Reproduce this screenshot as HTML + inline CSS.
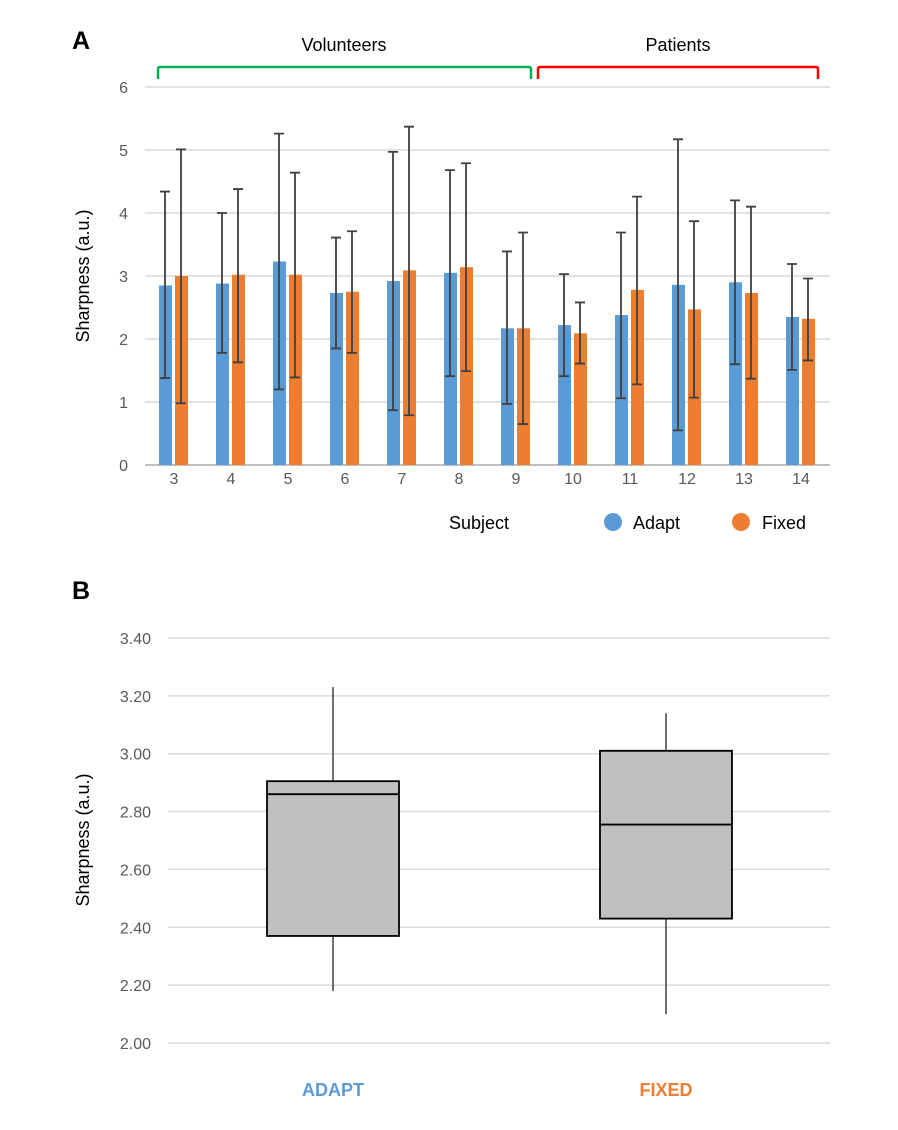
<!DOCTYPE html>
<html><head><meta charset="utf-8"><style>
body{margin:0;background:#fff;}
svg text{font-family:"Liberation Sans",sans-serif;}
</style></head><body>
<svg id="s" width="898" height="1125" xmlns="http://www.w3.org/2000/svg">
<text x="72" y="49" font-size="25" font-weight="bold" fill="#000">A</text>
<text x="72" y="599" font-size="25" font-weight="bold" fill="#000">B</text>
<path d="M158,79 V69 Q158,67 160,67 H529 Q531,67 531,69 V79" fill="none" stroke="#00b050" stroke-width="2.5"/>
<path d="M538,79 V69 Q538,67 540,67 H816 Q818,67 818,69 V79" fill="none" stroke="#ff0000" stroke-width="2.5"/>
<text x="344" y="51" font-size="18" text-anchor="middle">Volunteers</text>
<text x="678" y="51" font-size="18" text-anchor="middle">Patients</text>
<text transform="translate(89,276) rotate(-90)" font-size="18" text-anchor="middle">Sharpness (a.u.)</text>
<text x="479" y="529" font-size="18" text-anchor="middle">Subject</text>
<circle cx="613" cy="522" r="9" fill="#5b9bd5"/>
<text x="633" y="529" font-size="18">Adapt</text>
<circle cx="741" cy="522" r="9" fill="#ed7d31"/>
<text x="762" y="529" font-size="18">Fixed</text>
<text transform="translate(89,840) rotate(-90)" font-size="18" text-anchor="middle">Sharpness (a.u.)</text>
<g id="ga"></g><g id="gb"></g>
</svg>
<script>
const subjects=[3,4,5,6,7,8,9,10,11,12,13,14];
const adaptVals=[2.85,2.88,3.23,2.73,2.92,3.05,2.17,2.22,2.38,2.86,2.90,2.35];
const fixedVals=[3.00,3.02,3.02,2.75,3.09,3.14,2.17,2.09,2.78,2.47,2.73,2.32];
const adaptHigh=[4.34,4.00,5.26,3.61,4.97,4.68,3.39,3.03,3.69,5.17,4.20,3.19];
const adaptLow=[1.38,1.78,1.20,1.85,0.87,1.41,0.97,1.41,1.06,0.55,1.60,1.51];
const fixedHigh=[5.01,4.38,4.64,3.71,5.37,4.79,3.69,2.58,4.26,3.87,4.10,2.96];
const fixedLow=[0.98,1.63,1.39,1.78,0.79,1.49,0.65,1.61,1.28,1.07,1.37,1.66];
const aTicks=[0,1,2,3,4,5,6];
const boxCats=["ADAPT","FIXED"];
const boxMin=[2.18,2.10];
const boxQ1=[2.37,2.43];
const boxMed=[2.86,2.755];
const boxQ3=[2.905,3.01];
const boxMax=[3.23,3.14];
const bTicks=[2.0,2.2,2.4,2.6,2.8,3.0,3.2,3.4];
const NS="http://www.w3.org/2000/svg";
function mk(p,t,a){const e=document.createElementNS(NS,t);for(const k in a)e.setAttribute(k,a[k]);p.appendChild(e);return e;}
const ga=document.getElementById('ga'),gb=document.getElementById('gb');
const ya=v=>465-v*63;
const xa=i=>174+i*57;
aTicks.forEach(t=>{
  const l=mk(ga,'line',{x1:145,x2:830,y1:ya(t),y2:ya(t),stroke:t===0?'#bfbfbf':'#d9d9d9','stroke-width':t===0?2:1.5});
  
  
  const tx=mk(ga,'text',{x:128,y:ya(t)+6,'font-size':16,'text-anchor':'end',fill:'#595959'});tx.textContent=t;
  
  
});
subjects.forEach((s,i)=>{
  const c=xa(i);
  const b1=mk(ga,'rect',{x:c-15,y:ya(adaptVals[i]),width:13,height:ya(0)-ya(adaptVals[i]),fill:'#5b9bd5'});
  
  
  const b2=mk(ga,'rect',{x:c+1,y:ya(fixedVals[i]),width:13,height:ya(0)-ya(fixedVals[i]),fill:'#ed7d31'});
  
  
  [[c-9,adaptHigh[i],adaptLow[i]],[c+7,fixedHigh[i],fixedLow[i]]].forEach(([x,h,l])=>{
    const e=mk(ga,'path',{d:`M${x},${ya(h)}V${ya(l)}M${x-5},${ya(h)}H${x+5}M${x-5},${ya(l)}H${x+5}`,stroke:'#404040','stroke-width':1.8,fill:'none'});
    
    
  });
  const tx=mk(ga,'text',{x:c,y:484,'font-size':16,'text-anchor':'middle',fill:'#595959'});tx.textContent=s;
  
  
});
const yb=v=>1043-(v-2)*289.3;
const xb=i=>333+i*333;
bTicks.forEach(t=>{
  const l=mk(gb,'line',{x1:168,x2:830,y1:yb(t),y2:yb(t),stroke:'#d9d9d9','stroke-width':1.5});
  
  
  const tx=mk(gb,'text',{x:151,y:yb(t)+6,'font-size':16,'text-anchor':'end',fill:'#595959'});tx.textContent=t.toFixed(2);
  
  
});
boxCats.forEach((c,i)=>{
  const x=xb(i);
  const w=mk(gb,'path',{d:`M${x},${yb(boxMax[i])}V${yb(boxQ3[i])}M${x},${yb(boxQ1[i])}V${yb(boxMin[i])}`,stroke:'#404040','stroke-width':1.5});
  
  
  const r=mk(gb,'rect',{x:x-66,y:yb(boxQ3[i]),width:132,height:yb(boxQ1[i])-yb(boxQ3[i]),fill:'#bfbfbf',stroke:'#000','stroke-width':1.8});
  
  
  const m=mk(gb,'line',{x1:x-66,x2:x+66,y1:yb(boxMed[i]),y2:yb(boxMed[i]),stroke:'#000','stroke-width':1.8});
  
  
  const tx=mk(gb,'text',{x:x,y:1096,'font-size':18,'font-weight':'bold','text-anchor':'middle',fill:i===0?'#5b9bd5':'#ed7d31'});tx.textContent=c;
  
  
});
</script>
</body></html>
